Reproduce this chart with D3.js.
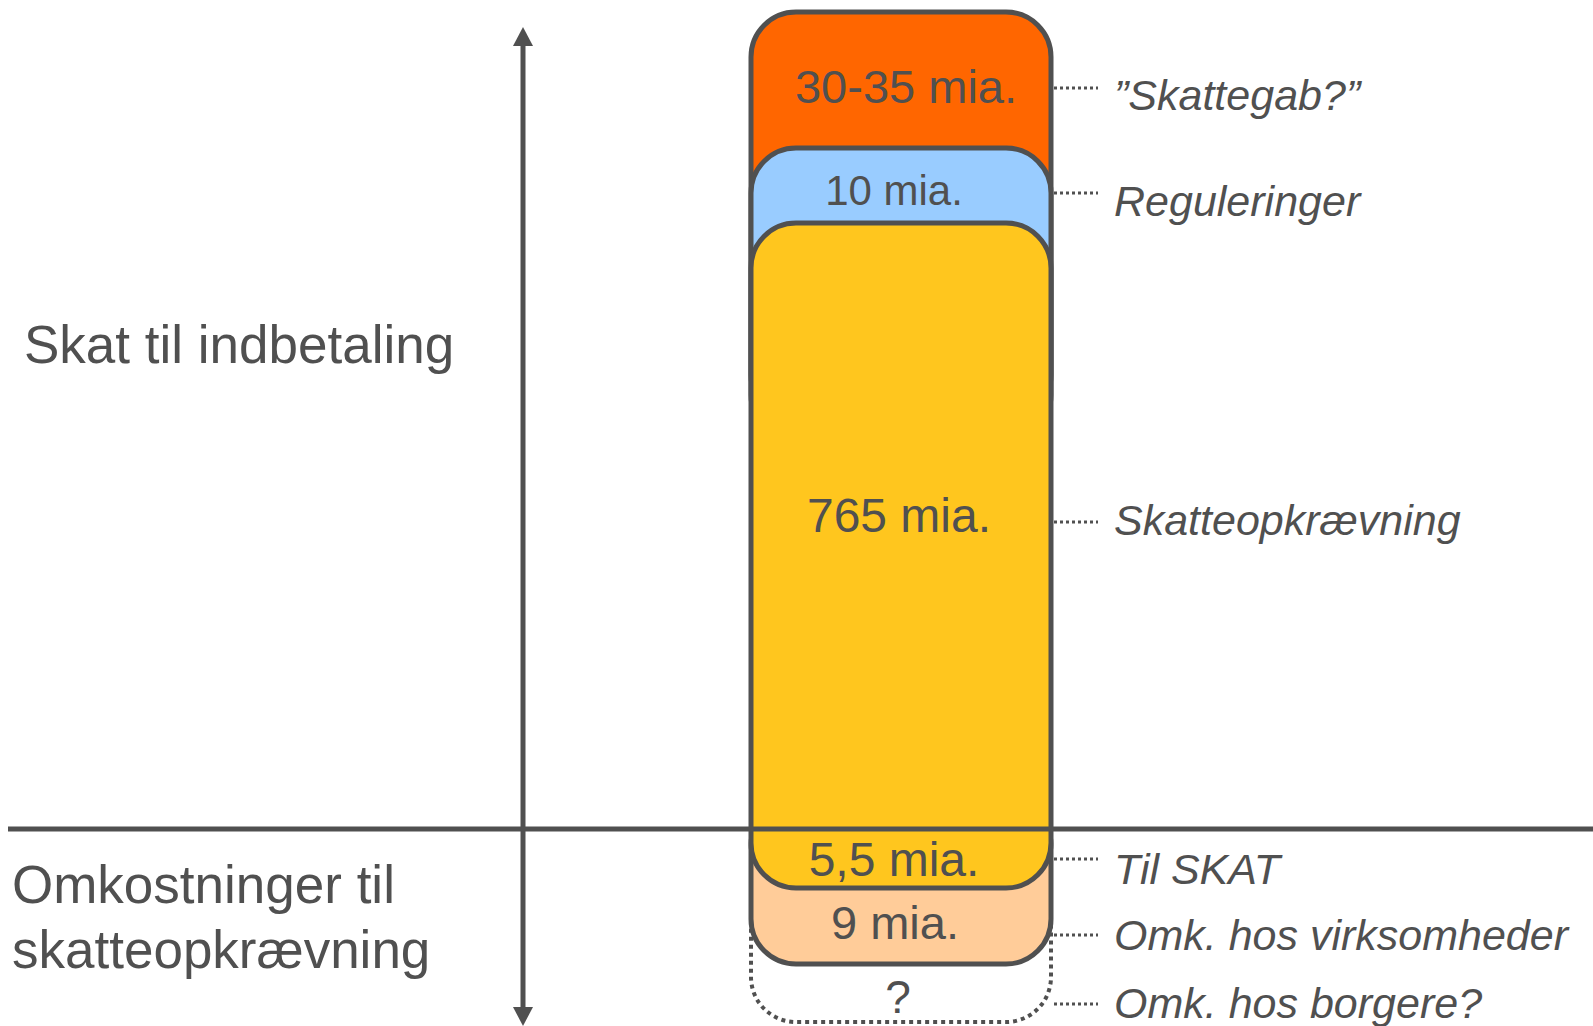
<!DOCTYPE html>
<html>
<head>
<meta charset="utf-8">
<script src="https://cdn.jsdelivr.net/npm/d3@7"></script>
<style>
  html, body { margin: 0; padding: 0; background: #fff; }
  svg { display: block; font-family: "Liberation Sans", Arial, sans-serif; }
</style>
</head>
<body>
<div id="chart"></div>
<script>
// segments of the stack, top to bottom
const segments = ["skattegab", "reguleringer", "skatteopkraevning", "tilSkat", "virksomheder", "borgere"];
const valueLabels = ["30-35 mia.", "10 mia.", "765 mia.", "5,5 mia.", "9 mia.", "?"];
const descLabels = ["\u201DSkattegab?\u201D", "Reguleringer", "Skatteopkr\u00E6vning", "Til SKAT", "Omk. hos virksomheder", "Omk. hos borgere?"];
const sideLabels = [["Skat til indbetaling"], ["Omkostninger til", "skatteopkr\u00E6vning"]];

// boxes, in drawing order (bottom layer first)
const boxNames = ["borgere", "virksomheder", "skattegab", "reguleringer", "skatteopkraevning"];
const boxFills = ["none", "#FFCC99", "#FF6600", "#99CCFF", "#FFC61E"];

const W = 1593, H = 1026;
const ink = "#505050";

const svg = d3.select("#chart")
    .append("svg")
    .attr("width", W)
    .attr("height", H);

// vertical layout of the schematic (pixels)
const boxTop = d3.scaleOrdinal()
    .domain(boxNames)
    .range([880, 800, 12, 148, 223]);
const boxBottom = d3.scaleOrdinal()
    .domain(boxNames)
    .range([1022, 964, 420, 440, 888]);
const leaderY = d3.scaleOrdinal()
    .domain(segments)
    .range([88, 193, 522, 859, 935, 1004]);
const descY = d3.scaleOrdinal()
    .domain(segments)
    .range([110, 216, 535, 884, 950, 1018]);
const valueY = d3.scaleOrdinal()
    .domain(segments)
    .range([103, 205, 532, 876, 939, 1013]);
const valueDx = d3.scaleOrdinal()
    .domain(segments)
    .range([5, -7, -2, -7, -6, -3]);
const valueSize = d3.scaleOrdinal()
    .domain(segments)
    .range([47, 42, 48, 48, 47, 46]);

const x0 = 751, x1 = 1051;
const xMid = (x0 + x1) / 2;

// Boxes
svg.selectAll("rect.box")
    .data(boxNames)
    .enter()
    .append("rect")
    .attr("class", "box")
    .attr("x", x0)
    .attr("y", d => boxTop(d))
    .attr("width", x1 - x0)
    .attr("height", d => boxBottom(d) - boxTop(d))
    .attr("rx", 45)
    .attr("ry", 45)
    .attr("fill", (d, i) => boxFills[i] === "none" ? "#fff" : boxFills[i])
    .attr("stroke", ink)
    .attr("stroke-width", (d, i) => boxFills[i] === "none" ? 4 : 5)
    .attr("stroke-dasharray", (d, i) => boxFills[i] === "none" ? "4,4" : null);

// Horizontal divider
svg.append("line")
    .attr("x1", 8).attr("x2", W)
    .attr("y1", 829).attr("y2", 829)
    .attr("stroke", ink)
    .attr("stroke-width", 5);

// Vertical double arrow
const ax = 523;
svg.append("line")
    .attr("x1", ax).attr("x2", ax)
    .attr("y1", 44).attr("y2", 1009)
    .attr("stroke", ink)
    .attr("stroke-width", 5);
svg.append("path")
    .attr("d", `M${ax},27 L${ax - 10},46 L${ax + 10},46 Z`)
    .attr("fill", ink);
svg.append("path")
    .attr("d", `M${ax},1026 L${ax - 10},1007 L${ax + 10},1007 Z`)
    .attr("fill", ink);

// Value labels inside the boxes
svg.selectAll("text.value")
    .data(segments)
    .enter()
    .append("text")
    .attr("class", "value")
    .attr("x", d => xMid + valueDx(d))
    .attr("y", d => valueY(d))
    .attr("text-anchor", "middle")
    .style("font-size", d => valueSize(d) + "px")
    .attr("fill", ink)
    .text((d, i) => valueLabels[i]);

// Dotted leaders
svg.selectAll("line.leader")
    .data(segments)
    .enter()
    .append("line")
    .attr("class", "leader")
    .attr("x1", x1 + 3)
    .attr("x2", 1098)
    .attr("y1", d => leaderY(d))
    .attr("y2", d => leaderY(d))
    .attr("stroke", ink)
    .attr("stroke-width", 3)
    .attr("stroke-dasharray", "3,3");

// Descriptions on the right
svg.selectAll("text.desc")
    .data(segments)
    .enter()
    .append("text")
    .attr("class", "desc")
    .attr("x", 1114)
    .attr("y", d => descY(d))
    .style("font-size", "43px")
    .style("font-style", "italic")
    .attr("fill", ink)
    .text((d, i) => descLabels[i]);

// Side labels
const sidePos = [{x: 24, y: 363}, {x: 12, y: 903}];
sideLabels.forEach((lines, i) => {
    const t = svg.append("text")
        .attr("x", sidePos[i].x)
        .attr("y", sidePos[i].y)
        .style("font-size", "53px")
        .attr("fill", ink);
    lines.forEach((line, j) => {
        t.append("tspan")
            .attr("x", sidePos[i].x)
            .attr("dy", j === 0 ? 0 : 65)
            .text(line);
    });
});
</script>
</body>
</html>
